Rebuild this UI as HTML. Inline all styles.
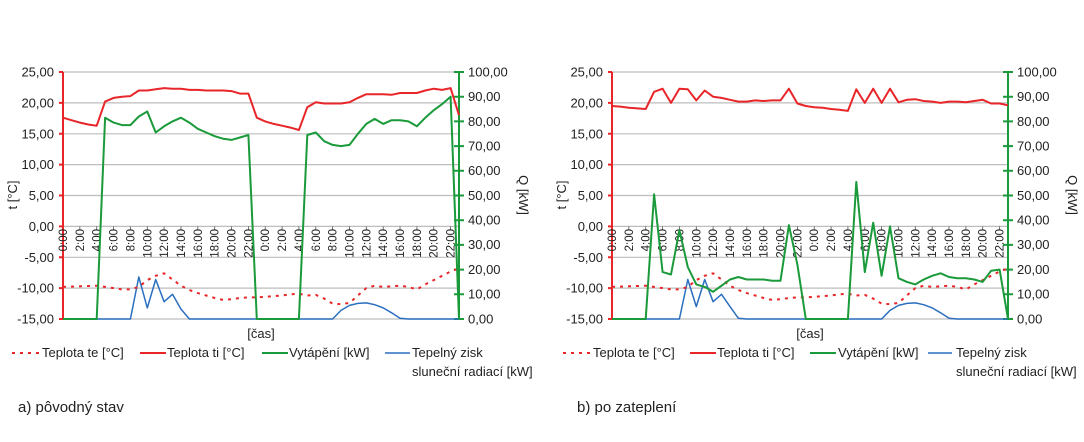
<!DOCTYPE html>
<html><head><meta charset="utf-8"><style>
html,body{margin:0;padding:0;background:#fff;}
svg{display:block;font-family:"Liberation Sans",Arial,sans-serif;}
.t{font-size:13px;fill:#222;}
.x{font-size:11.5px;fill:#222;}
.cap{font-size:15px;fill:#222;}
</style></head><body>
<svg id="s" width="1084" height="442" viewBox="0 0 1084 442" xmlns="http://www.w3.org/2000/svg">
<defs>
<g id="grid">
<g stroke="#bdbdbd" stroke-width="1.2">
<line x1="0" x2="396" y1="72" y2="72"/><line x1="0" x2="396" y1="102.9" y2="102.9"/>
<line x1="0" x2="396" y1="133.8" y2="133.8"/><line x1="0" x2="396" y1="164.6" y2="164.6"/>
<line x1="0" x2="396" y1="195.5" y2="195.5"/><line x1="0" x2="396" y1="226.4" y2="226.4"/>
<line x1="0" x2="396" y1="257.3" y2="257.3"/><line x1="0" x2="396" y1="288.1" y2="288.1"/>
<line x1="0" x2="396" y1="319" y2="319"/>
</g>
<g stroke="#555" stroke-width="0.8">
<path d="M0 226.4v4M16.85 226.4v4M33.7 226.4v4M50.55 226.4v4M67.4 226.4v4M84.3 226.4v4M101.1 226.4v4M118 226.4v4M134.8 226.4v4M151.7 226.4v4M168.5 226.4v4M185.4 226.4v4M202.2 226.4v4M219.1 226.4v4M235.9 226.4v4M252.8 226.4v4M269.6 226.4v4M286.5 226.4v4M303.3 226.4v4M320.2 226.4v4M337 226.4v4M353.9 226.4v4M370.7 226.4v4M387.6 226.4v4"/>
</g>
<g stroke="#e8262a" stroke-width="2"><line x1="0" x2="0" y1="72" y2="319"/>
<path d="M-4 72h4M-4 102.9h4M-4 133.8h4M-4 164.6h4M-4 195.5h4M-4 226.4h4M-4 257.3h4M-4 288.1h4M-4 319h4"/></g>
<g stroke="#1a9a3a" stroke-width="2"><line x1="396" x2="396" y1="72" y2="319"/>
<path d="M391 72h10M391 96.7h10M391 121.4h10M391 146.1h10M391 170.8h10M391 195.5h10M391 220.2h10M391 244.9h10M391 269.6h10M391 294.3h10M391 319h10"/></g>
<g class="t" text-anchor="end">
<text x="-9" y="76.5">25,00</text><text x="-9" y="107.5">20,00</text><text x="-9" y="138.5">15,00</text>
<text x="-9" y="169">10,00</text><text x="-9" y="200">5,00</text><text x="-9" y="231">0,00</text>
<text x="-9" y="262">-5,00</text><text x="-9" y="292.5">-10,00</text><text x="-9" y="323.5">-15,00</text>
</g>
<g class="t">
<text x="405" y="76.5">100,00</text><text x="405" y="101">90,00</text><text x="405" y="126">80,00</text>
<text x="405" y="150.5">70,00</text><text x="405" y="175">60,00</text><text x="405" y="200">50,00</text>
<text x="405" y="224.5">40,00</text><text x="405" y="249">30,00</text><text x="405" y="274">20,00</text>
<text x="405" y="298.5">10,00</text><text x="405" y="323.5">0,00</text>
</g>
<g class="x" text-anchor="end">
<text transform="translate(4,229) rotate(-90)">0:00</text>
<text transform="translate(20.9,229) rotate(-90)">2:00</text>
<text transform="translate(37.7,229) rotate(-90)">4:00</text>
<text transform="translate(54.6,229) rotate(-90)">6:00</text>
<text transform="translate(71.4,229) rotate(-90)">8:00</text>
<text transform="translate(88.3,229) rotate(-90)">10:00</text>
<text transform="translate(105.1,229) rotate(-90)">12:00</text>
<text transform="translate(122,229) rotate(-90)">14:00</text>
<text transform="translate(138.8,229) rotate(-90)">16:00</text>
<text transform="translate(155.7,229) rotate(-90)">18:00</text>
<text transform="translate(172.5,229) rotate(-90)">20:00</text>
<text transform="translate(189.4,229) rotate(-90)">22:00</text>
<text transform="translate(206.2,229) rotate(-90)">0:00</text>
<text transform="translate(223.1,229) rotate(-90)">2:00</text>
<text transform="translate(239.9,229) rotate(-90)">4:00</text>
<text transform="translate(256.8,229) rotate(-90)">6:00</text>
<text transform="translate(273.6,229) rotate(-90)">8:00</text>
<text transform="translate(290.5,229) rotate(-90)">10:00</text>
<text transform="translate(307.3,229) rotate(-90)">12:00</text>
<text transform="translate(324.2,229) rotate(-90)">14:00</text>
<text transform="translate(341,229) rotate(-90)">16:00</text>
<text transform="translate(357.9,229) rotate(-90)">18:00</text>
<text transform="translate(374.7,229) rotate(-90)">20:00</text>
<text transform="translate(391.6,229) rotate(-90)">22:00</text>
</g>
<text class="t" transform="translate(-46,195) rotate(-90)" text-anchor="middle" font-size="14">t [°C]</text>
<text class="t" transform="translate(456,195) rotate(90)" text-anchor="middle" font-size="14">Q [kW]</text>
<text class="t" x="198" y="338" text-anchor="middle">[čas]</text>
</g>
</defs>
<g transform="translate(63,0)"><use href="#grid"/><g id="L"></g></g>
<g transform="translate(612,0)"><use href="#grid"/><g id="R"></g></g>

<g class="t" font-size="12.5">
<line x1="12" x2="40" y1="353" y2="353" stroke="#e8262a" stroke-width="2" stroke-dasharray="3,5"/>
<text x="42" y="357">Teplota te [°C]</text>
<line x1="140" x2="166" y1="353" y2="353" stroke="#e8262a" stroke-width="2"/>
<text x="167" y="357">Teplota ti [°C]</text>
<line x1="262" x2="288" y1="353" y2="353" stroke="#1a9a3a" stroke-width="2"/>
<text x="289" y="357">Vytápění [kW]</text>
<line x1="385" x2="410" y1="353" y2="353" stroke="#2b6fc0" stroke-width="1.5"/>
<text x="412" y="357">Tepelný zisk</text>
<text x="412" y="376">sluneční radiací [kW]</text>

<line x1="563" x2="591" y1="353" y2="353" stroke="#e8262a" stroke-width="2" stroke-dasharray="3,5"/>
<text x="593" y="357">Teplota te [°C]</text>
<line x1="690" x2="716" y1="353" y2="353" stroke="#e8262a" stroke-width="2"/>
<text x="717" y="357">Teplota ti [°C]</text>
<line x1="810" x2="836" y1="353" y2="353" stroke="#1a9a3a" stroke-width="2"/>
<text x="838" y="357">Vytápění [kW]</text>
<line x1="928" x2="952" y1="353" y2="353" stroke="#2b6fc0" stroke-width="1.5"/>
<text x="956" y="357">Tepelný zisk</text>
<text x="956" y="376">sluneční radiací [kW]</text>
</g>
<text class="cap" x="18" y="412">a) pôvodný stav</text>
<text class="cap" x="577" y="412">b) po zateplení</text>
</svg>
<script>
function X(i){return i*396/47;}
function YT(t){return 72+(25-t)/40*247;}
function YQ(q){return 319-q/100*247;}
function pl(id,arr,f,col,w,dash){
  var g=document.getElementById(id),p=document.createElementNS("http://www.w3.org/2000/svg","polyline");
  p.setAttribute("points",arr.map(function(v,i){return X(i).toFixed(1)+","+f(v).toFixed(1);}).join(" "));
  p.setAttribute("fill","none");p.setAttribute("stroke",col);p.setAttribute("stroke-width",w);
  p.setAttribute("stroke-linejoin","round");
  if(dash)p.setAttribute("stroke-dasharray",dash);
  g.appendChild(p);
}
var te=[-9.8,-9.75,-9.7,-9.65,-9.6,-9.8,-10,-10.2,-10.2,-9.8,-8.7,-8,-7.6,-8.6,-9.6,-10.3,-10.8,-11.2,-11.6,-11.9,-11.8,-11.6,-11.5,-11.5,-11.4,-11.3,-11.2,-11,-10.9,-11.2,-11.1,-11.7,-12.5,-12.6,-12.4,-11.2,-10,-9.6,-9.8,-9.7,-9.6,-9.8,-10.2,-9.4,-8.7,-8,-7.3,-6.8];
var tiL=[17.6,17.2,16.8,16.5,16.3,20.2,20.8,21,21.1,22,22,22.2,22.4,22.3,22.3,22.1,22.1,22,22,22,21.9,21.5,21.5,17.6,17,16.6,16.3,16,15.6,19.3,20.1,19.9,19.9,19.9,20.1,20.8,21.4,21.4,21.4,21.3,21.6,21.6,21.6,22,22.3,22.1,22.4,18];
var qL=[0,0,0,0,0,81.5,79.5,78.5,78.5,82,84,75.5,78,80,81.5,79.5,77,75.5,74,73,72.5,73.5,74.5,0,0,0,0,0,0,74.5,75.5,72,70.5,70,70.5,75,79,81,79,80.5,80.5,80,78,81.5,84.5,87,90,0];
var sL=[0,0,0,0,0,0,0,0,0,17,4.5,16,7,10,4,0,0,0,0,0,0,0,0,0,0,0,0,0,0,0,0,0,0,3.5,5.5,6.3,6.5,5.8,4.5,2.5,0.3,0,0,0,0,0,0,0];
var tiR=[19.5,19.4,19.2,19.1,19,21.8,22.3,20,22.3,22.2,20.4,22,21,20.8,20.5,20.2,20.2,20.4,20.3,20.4,20.4,22.3,19.9,19.5,19.3,19.2,19,18.9,18.7,22.2,20,22.3,20,22.3,20.1,20.5,20.6,20.3,20.2,20,20.2,20.2,20.1,20.3,20.5,19.9,19.9,19.6];
var qR=[0,0,0,0,0,50.5,19,18,36,21,14,13,11,13.5,16,17,16,16,16,15.5,15.5,38,22,0,0,0,0,0,0,55.5,19,39,17.5,37.5,16.5,15,14,16,17.5,18.5,17,16.5,16.5,16,15,19.5,20,0];
var sR=[0,0,0,0,0,0,0,0,0,16,5,16,7,10,5,0.3,0,0,0,0,0,0,0,0,0,0,0,0,0,0,0,0,0,3.5,5.5,6.3,6.5,5.8,4.5,2.5,0.3,0,0,0,0,0,0,0];
pl("L",sL,YQ,"#2b6fc0",1.5);pl("L",te,YT,"#e8262a",2,"3,5");pl("L",qL,YQ,"#1a9a3a",2);pl("L",tiL,YT,"#e8262a",2);
pl("R",sR,YQ,"#2b6fc0",1.5);pl("R",te,YT,"#e8262a",2,"3,5");pl("R",qR,YQ,"#1a9a3a",2);pl("R",tiR,YT,"#e8262a",2);
</script>
</body></html>
